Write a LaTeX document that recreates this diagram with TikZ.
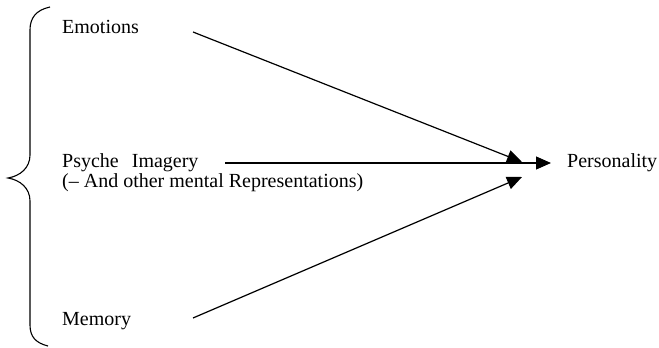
\documentclass[tikz,border=0pt]{standalone}
\usepackage{fontspec}
\setmainfont{Liberation Serif}
\usetikzlibrary{arrows.meta}
\begin{document}
\begin{tikzpicture}[x=1pt,y=-1pt,
  lbl/.style={anchor=base west,inner sep=0pt,font=\fontsize{20}{24}\selectfont},
  conn/.style={line width=1.2pt,-{Triangle[length=15pt,width=13pt]}},
  brace/.style={line width=1.1pt}]
\useasboundingbox (0,0) rectangle (659,348);
% labels
\node[lbl] (emo) at (62,33.5) {Emotions};
\node[lbl] (psy) at (62,167.5) {Psyche\hspace{0.65em}Imagery};
\node[lbl] (rep) at (62,187) {(– And other mental Representations)};
\node[lbl] (mem) at (62,325.5) {Memory};
\node[lbl] (pers) at (567,167.5) {Personality};
% connector ends
\coordinate (es) at (193,32);
\coordinate (et) at (522,162);
\coordinate (ps) at (225,163);
\coordinate (pt) at (551,163);
\coordinate (ms) at (193,318);
\coordinate (mt) at (522,177);
\draw[conn] (es) -- (et);
\draw[conn] (ps) -- (pt);
\draw[conn] (ms) -- (mt);
% brace
\coordinate (btop) at (50,7);
\coordinate (btip) at (8,178);
\coordinate (bbot) at (48,346);
\draw[brace] (btop) .. controls (36,10) and (30,18) .. (30,30) -- (30,155)
  .. controls (30,168) and (20,176) .. (btip)
  .. controls (20,180) and (30,188) .. (30,201) -- (30,325)
  .. controls (30,337) and (36,343) .. (bbot);
\end{tikzpicture}
\end{document}
